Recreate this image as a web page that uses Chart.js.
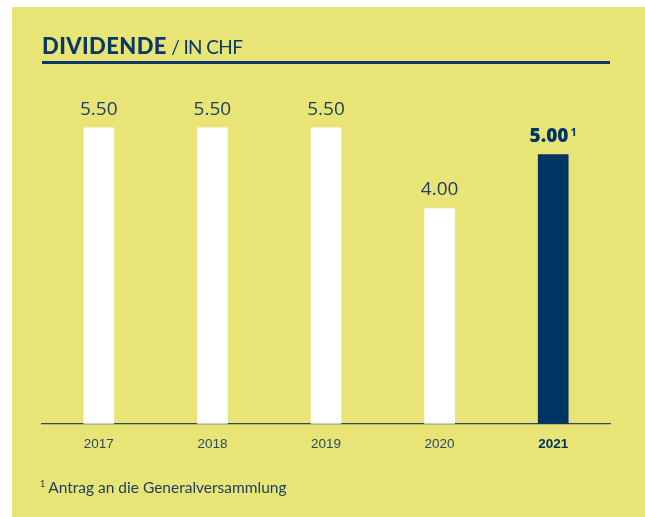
<!DOCTYPE html>
<html>
<head>
<meta charset="utf-8">
<script src="https://cdn.jsdelivr.net/npm/chart.js@4/dist/chart.umd.min.js"></script>
<style>
  html, body { margin: 0; padding: 0; background: #ffffff; }
  #panel { position: absolute; left: 12px; top: 7px; width: 633px; height: 510px; background: #e8e476; }
  #wrap { position: absolute; left: 0; top: 0; width: 645px; height: 517px; }
  #title { position: absolute; left: 42px; top: 32px; font-family: "Lato", "Open Sans", sans-serif; color: #0b3866; white-space: nowrap; }
  #title b { font-weight: 900; font-size: 22px; letter-spacing: 0.4px; }
  #title span { font-weight: 400; font-size: 19px; letter-spacing: -0.6px; }
  #rule { position: absolute; left: 42px; top: 61px; width: 568px; height: 3px; background: #0b3866; }
  #note { position: absolute; left: 40px; top: 478px; font-family: "Lato", "Open Sans", sans-serif; font-size: 15.5px; color: #1d3f63; }
  #note sup { font-size: 9px; vertical-align: 6px; margin-right: 3px; }
</style>
</head>
<body>
<div id="panel"></div>
<div id="wrap"><canvas id="c" width="645" height="517"></canvas></div>
<div id="title"><b>DIVIDENDE</b><span> / IN CHF</span></div>
<div id="rule"></div>
<div id="note"><sup>1</sup>Antrag an die Generalversammlung</div>
<script>
// Dividend per share, CHF
const years = ['2017', '2018', '2019', '2020', '2021'];
const dividends = [5.50, 5.50, 5.50, 4.00, 5.00];
const footnoteMarks = ['', '', '', '', '1'];

const NAVY = '#003462';
const TEXT = '#1d3f63';

// Writes each value above its bar; the proposed year is bold with a raised footnote mark
const valueLabels = {
  id: 'valueLabels',
  afterDatasetsDraw(chart) {
    const { ctx } = chart;
    const meta = chart.getDatasetMeta(0);
    meta.data.forEach((bar, i) => {
      const txt = dividends[i].toFixed(2);
      const proposed = footnoteMarks[i] !== '';
      ctx.save();
      ctx.textBaseline = 'alphabetic';
      ctx.fillStyle = proposed ? NAVY : TEXT;
      const y = bar.y - 13;
      if (proposed) {
        ctx.font = '800 19px "Open Sans", sans-serif';
        const w = ctx.measureText(txt).width;
        ctx.font = '700 11px "Open Sans", sans-serif';
        const sw = ctx.measureText(footnoteMarks[i]).width;
        const x0 = bar.x - (w + sw + 2) / 2;
        ctx.textAlign = 'left';
        ctx.fillText(footnoteMarks[i], x0 + w + 2, y - 6);
        ctx.font = '800 19px "Open Sans", sans-serif';
        ctx.fillText(txt, x0, y);
      } else {
        ctx.font = '400 19px "Open Sans", sans-serif';
        ctx.textAlign = 'center';
        ctx.fillText(txt, bar.x, y);
      }
      ctx.restore();
    });
  }
};

new Chart(document.getElementById('c'), {
  type: 'bar',
  data: {
    labels: years,
    datasets: [{
      data: dividends,
      backgroundColor: years.map((y, i) => footnoteMarks[i] ? NAVY : '#ffffff'),
      borderWidth: 0,
      barThickness: 30
    }]
  },
  options: {
    responsive: false,
    animation: false,
    events: [],
    layout: { padding: { left: 42, right: 35, top: 47, bottom: 53 } },
    plugins: { legend: { display: false }, tooltip: { enabled: false } },
    scales: {
      x: {
        grid: { display: false, drawTicks: false },
        border: { display: true, color: '#2a4a66', width: 1.2 },
        ticks: {
          padding: 12,
          color: (c) => c.index === 4 ? NAVY : '#2a4a66',
          font: (c) => ({ family: '"Liberation Sans", Arial, sans-serif', size: 13.5, weight: c.index === 4 ? 'bold' : 'normal' })
        }
      },
      y: {
        display: false,
        min: 0,
        max: 7
      }
    }
  },
  plugins: [valueLabels]
});
</script>
</body>
</html>
